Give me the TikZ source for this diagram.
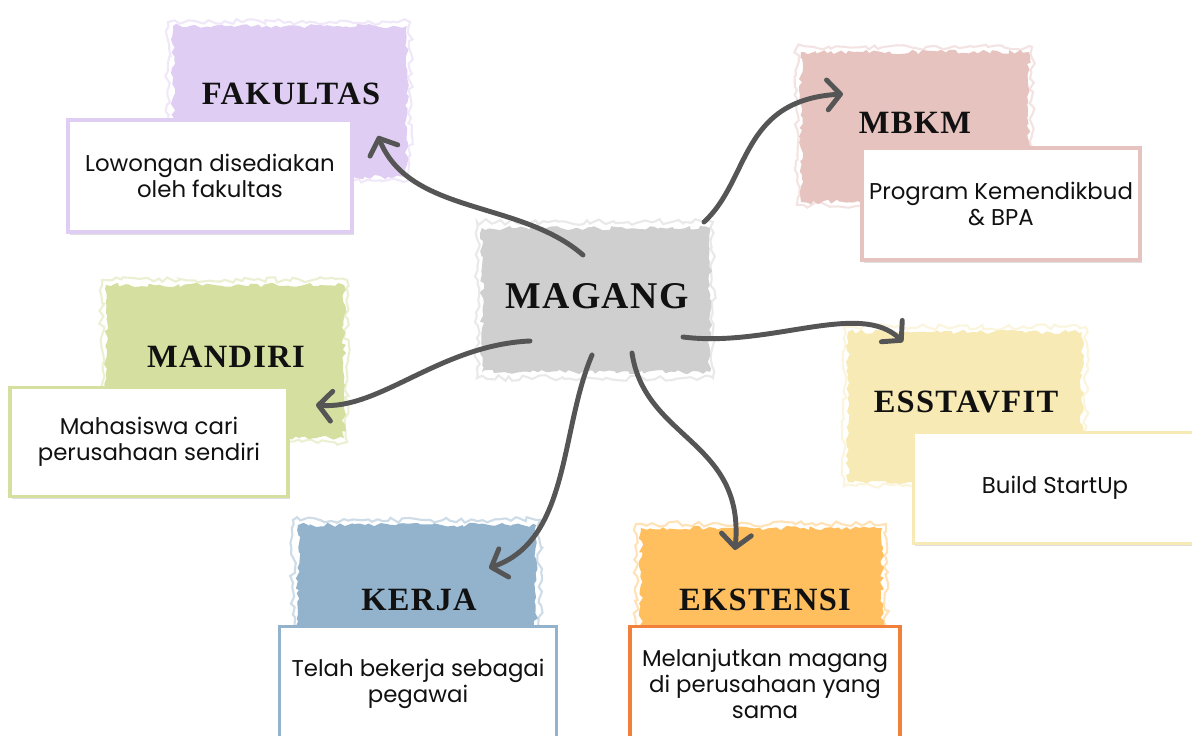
\documentclass[tikz,border=0pt]{standalone}
\usepackage{fontspec}
\newfontfamily\bodyfont{Poppins}
\newfontfamily\titlefont{Liberation Serif}[LetterSpace=4]
\usetikzlibrary{arrows.meta,positioning,decorations.pathmorphing,shadows}
\definecolor{ink}{HTML}{111111}
\definecolor{arrowgray}{HTML}{555555}
\definecolor{gray1}{HTML}{CFCFCF}
\definecolor{lav}{HTML}{DFCDF3}
\definecolor{pinkb}{HTML}{E6C3BF}
\definecolor{greenb}{HTML}{D5DF9F}
\definecolor{yellowb}{HTML}{F8EAB4}
\definecolor{blueb}{HTML}{93B3CD}
\definecolor{orangeb}{HTML}{FFBF5E}
\definecolor{orangeline}{HTML}{F0803A}

\begin{document}
\begin{tikzpicture}[x=0.02cm,y=-0.02cm,
  brush/.style={fill=#1,decorate,decoration={random steps,segment length=2.5pt,amplitude=1.3pt}},
  brushedge/.style={draw=#1,line width=1.2pt,opacity=0.45,decorate,decoration={random steps,segment length=3pt,amplitude=1.6pt}},
  title/.style={font=\titlefont\fontsize{18.5}{20}\selectfont\bfseries,text=ink},
  descbox/.style={draw=#1,line width=2.2pt,fill=white,align=center,inner sep=0pt,
    font=\bodyfont\fontsize{13}{14.6}\selectfont,text=ink,
    drop shadow={shadow xshift=1pt,shadow yshift=-1.5pt,opacity=0.25}},
  link/.style={draw=arrowgray,line width=2.8pt,line cap=round,-{Straight Barb[round,length=7.5pt,width=17pt]}}]
\pgfmathsetseed{7}
\fill[white] (0,0) rectangle (1192,736);
\useasboundingbox (0,0) rectangle (1192,736);
\clip (0,0) rectangle (1192,736);

% brush strokes
\draw[brushedge=gray1] (477,222) rectangle (713,378);
\fill[brush=gray1] (482,228) rectangle (710,372);
\draw[brushedge=lav] (168,22) rectangle (410,180);
\fill[brush=lav] (173,26) rectangle (407,177);
\draw[brushedge=pinkb] (797,47) rectangle (1032,205);
\fill[brush=pinkb] (801,52) rectangle (1029,202);
\draw[brushedge=greenb] (102,280) rectangle (347,442);
\fill[brush=greenb] (106,285) rectangle (344,438);
\draw[brushedge=yellowb] (844,327) rectangle (1086,486);
\fill[brush=yellowb] (848,332) rectangle (1082,482);
\draw[brushedge=blueb] (293,520) rectangle (540,640);
\fill[brush=blueb] (298,525) rectangle (536,640);
\draw[brushedge=orangeb] (636,524) rectangle (886,640);
\fill[brush=orangeb] (641,528) rectangle (882,640);

% titles
\node[title,font=\titlefont\fontsize{21.5}{24}\selectfont\bfseries] (magang) at (597,296) {MAGANG};
\node[title] (fakultas) at (291,94) {FAKULTAS};
\node[title] (mbkm) at (915,123) {MBKM};
\node[title] (mandiri) at (226,357) {MANDIRI};
\node[title] (esstavfit) at (966,402) {ESSTAVFIT};
\node[title] (kerja) at (419,600) {KERJA};
\node[title] (ekstensi) at (765,600) {EKSTENSI};

% description boxes
\node[descbox=lav,minimum width=5.68cm,minimum height=2.24cm] (fakultasD) at (210,176) {Lowongan disediakan\\oleh fakultas};
\node[descbox=pinkb,minimum width=5.56cm,minimum height=2.24cm] (mbkmD) at (1001,204) {Program Kemendikbud\\\& BPA};
\node[descbox=greenb,minimum width=5.56cm,minimum height=2.18cm] (mandiriD) at (149,442) {Mahasiswa cari\\perusahaan sendiri};
\node[descbox=yellowb,minimum width=5.66cm,minimum height=2.22cm] (esstavfitD) at (1055,488) {Build StartUp};
\node[descbox=blueb,minimum width=5.54cm,minimum height=2.3cm] (kerjaD) at (418,684) {Telah bekerja sebagai\\pegawai};
\node[descbox=orangeline,minimum width=5.4cm,minimum height=2.3cm] (ekstensiD) at (765,684) {Melanjutkan magang\\di perusahaan yang\\sama};

% connectors
\coordinate (s1) at (583,255); \coordinate (e1) at (378,136);
\coordinate (s2) at (704,222); \coordinate (e2) at (843,94);
\coordinate (s3) at (683,337); \coordinate (e3) at (903,342);
\coordinate (s4) at (530,341); \coordinate (e4) at (316,405);
\coordinate (s5) at (592,355); \coordinate (e5) at (489,568);
\coordinate (s6) at (632,353); \coordinate (e6) at (735,550);
\draw[link] (s1) .. controls (520,200) and (410,215) .. (e1);
\draw[link] (s2) .. controls (750,180) and (740,100) .. (e2);
\draw[link] (s3) .. controls (770,348) and (860,300) .. (e3);
\draw[link] (s4) .. controls (440,345) and (380,410) .. (e4);
\draw[link] (s5) .. controls (560,430) and (570,540) .. (e5);
\draw[link] (s6) .. controls (645,440) and (745,440) .. (e6);
\end{tikzpicture}
\end{document}
